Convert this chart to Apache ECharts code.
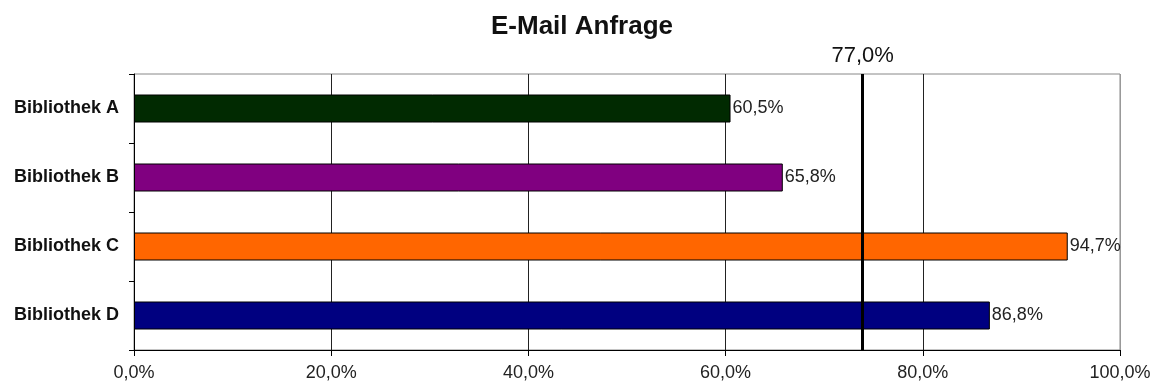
<!DOCTYPE html>
<html>
<head>
<meta charset="utf-8">
<script src="https://cdn.jsdelivr.net/npm/echarts@6/dist/echarts.min.js"></script>
<style>html,body{margin:0;padding:0;background:#fff;}#c{width:1164px;height:391px;}</style>
</head>
<body>
<div id="c"></div>
<script>
const categories = ['Bibliothek A', 'Bibliothek B', 'Bibliothek C', 'Bibliothek D'];
const values = [60.5, 65.8, 94.7, 86.8];
const barColors = ['#012a01', '#800080', '#ff6600', '#000080'];
const refLinePosition = 73.9;
const refLineLabel = '77,0%';
const axisMin = 0, axisMax = 100, axisStep = 20;
const titleText = 'E-Mail Anfrage';

const fmt = v => v.toFixed(1).replace('.', ',') + '%';
const chart = echarts.init(document.getElementById('c'));
chart.setOption({
  animation: false,
  backgroundColor: '#fff',
  title: {
    text: titleText, left: 'center', top: 9,
    textStyle: { fontFamily: 'Liberation Sans', fontWeight: 'bold', fontSize: 26, color: '#111' }
  },
  grid: { left: 134, right: 44, top: 74, bottom: 41, show: true, borderColor: '#888', borderWidth: 1 },
  xAxis: {
    type: 'value', min: axisMin, max: axisMax, interval: axisStep,
    axisLine: { show: true, lineStyle: { color: '#000', width: 1 } },
    axisTick: { show: true, length: 6, lineStyle: { color: '#000' } },
    axisLabel: { formatter: fmt, fontFamily: 'Liberation Sans', fontSize: 18, color: '#222', margin: 14 },
    splitLine: { show: true, lineStyle: { color: ['#000', '#222', '#222', '#222', '#222', '#999'], width: 1 } }
  },
  yAxis: {
    type: 'category', data: categories, inverse: true,
    axisLine: { show: true, lineStyle: { color: '#000', width: 1 } },
    axisTick: { show: true, length: 5, lineStyle: { color: '#000' } },
    axisLabel: { fontFamily: 'Liberation Sans', fontWeight: 'bold', fontSize: 18, color: '#111', margin: 15 }
  },
  series: [{
    type: 'bar',
    data: values.map((v, i) => ({ value: v, itemStyle: { color: barColors[i] } })),
    barWidth: 28,
    itemStyle: { borderColor: '#000', borderWidth: 1 },
    label: { show: true, position: 'right', distance: 2, formatter: p => fmt(p.value),
      fontFamily: 'Liberation Sans', fontSize: 18, color: '#222' },
    markLine: {
      silent: true, symbol: 'none',
      lineStyle: { color: '#000', width: 3, type: 'solid' },
      label: { show: true, position: 'start', distance: 7, formatter: refLineLabel,
        fontFamily: 'Liberation Sans', fontSize: 22, color: '#111' },
      data: [{ xAxis: refLinePosition }]
    }
  }]
});
</script>
</body>
</html>
